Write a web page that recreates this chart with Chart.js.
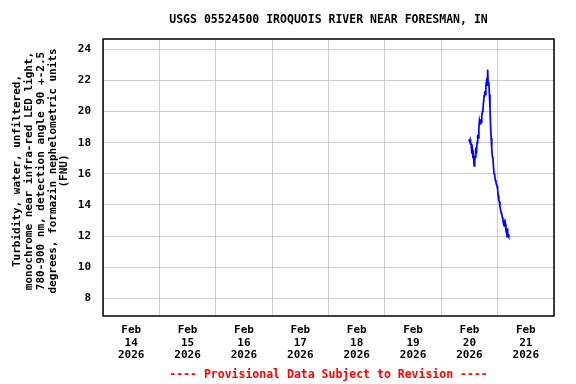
<!DOCTYPE html>
<html>
<head>
<meta charset="utf-8">
<script src="https://cdn.jsdelivr.net/npm/chart.js@4/dist/chart.umd.min.js"></script>
<style>
  html, body { margin: 0; padding: 0; background: #fff; }
  canvas { display: block; }
</style>
</head>
<body>
<canvas id="chart" width="576" height="384"></canvas>
<script>
const stationTitle = "USGS 05524500 IROQUOIS RIVER NEAR FORESMAN, IN";
const yAxisTitle = [
    "Turbidity, water, unfiltered,",
    "monochrome near infra-red LED light,",
    "780-900 nm, detection angle 90 +-2.5",
    "degrees, formazin nephelometric units",
    "(FNU)"
];
const footnote = "---- Provisional Data Subject to Revision ----";

// x axis runs Feb 14 00:00 .. Feb 22 00:00, in days from Feb 14
const gridDays = [0, 1, 2, 3, 4, 5, 6, 7, 8];
const labelDays = [0.5, 1.5, 2.5, 3.5, 4.5, 5.5, 6.5, 7.5];
const dayLabels = [
    ["Feb", "14", "2026"], ["Feb", "15", "2026"], ["Feb", "16", "2026"], ["Feb", "17", "2026"],
    ["Feb", "18", "2026"], ["Feb", "19", "2026"], ["Feb", "20", "2026"], ["Feb", "21", "2026"]
];
const yTicks = [8, 10, 12, 14, 16, 18, 20, 22, 24];

// 15-minute readings (FNU)
const readTimes = [
    "2026-02-20 11:45", "2026-02-20 12:00", "2026-02-20 12:15", "2026-02-20 12:30", "2026-02-20 12:45",
    "2026-02-20 13:00", "2026-02-20 13:15", "2026-02-20 13:30", "2026-02-20 13:45", "2026-02-20 14:00",
    "2026-02-20 14:15", "2026-02-20 14:30", "2026-02-20 14:45", "2026-02-20 15:00", "2026-02-20 15:15",
    "2026-02-20 15:30", "2026-02-20 15:45", "2026-02-20 16:00", "2026-02-20 16:15", "2026-02-20 16:30",
    "2026-02-20 16:45", "2026-02-20 17:00", "2026-02-20 17:15", "2026-02-20 17:30", "2026-02-20 17:45",
    "2026-02-20 18:00", "2026-02-20 18:15", "2026-02-20 18:30", "2026-02-20 18:45", "2026-02-20 19:00",
    "2026-02-20 19:15", "2026-02-20 19:30", "2026-02-20 19:45", "2026-02-20 20:00", "2026-02-20 20:15",
    "2026-02-20 20:30", "2026-02-20 20:45", "2026-02-20 21:00", "2026-02-20 21:15", "2026-02-20 21:30",
    "2026-02-20 21:45", "2026-02-20 22:00", "2026-02-20 22:15", "2026-02-20 22:30", "2026-02-20 22:45",
    "2026-02-20 23:00", "2026-02-20 23:15", "2026-02-20 23:30", "2026-02-20 23:45", "2026-02-21 00:00",
    "2026-02-21 00:15", "2026-02-21 00:30", "2026-02-21 00:45", "2026-02-21 01:00", "2026-02-21 01:15",
    "2026-02-21 01:30", "2026-02-21 01:45", "2026-02-21 02:00", "2026-02-21 02:15", "2026-02-21 02:30",
    "2026-02-21 02:45", "2026-02-21 03:00", "2026-02-21 03:15", "2026-02-21 03:30", "2026-02-21 03:45",
    "2026-02-21 04:00", "2026-02-21 04:15", "2026-02-21 04:30", "2026-02-21 04:45"
];
const turbidity = [
    18.2, 18.1, 18.2, 17.9, 17.9,
    17.3, 17.5, 17.0, 17.2, 16.5,
    16.9, 17.1, 17.7, 17.3, 18.0,
    18.5, 18.3, 18.9, 19.4, 19.2,
    19.5, 19.3, 19.7, 20.0, 20.1,
    20.6, 21.0, 21.3, 21.1, 21.6,
    21.9, 21.7, 22.7, 21.7, 21.9,
    21.1, 20.2, 19.1, 18.3, 17.6,
    17.1, 17.0, 16.4, 16.0, 15.9,
    15.6, 15.5, 15.3, 15.2, 15.0,
    14.6, 14.3, 14.2, 13.9, 13.7,
    13.5, 13.4, 13.2, 13.0, 12.8,
    12.9, 12.6, 12.8, 12.4, 12.2,
    12.5, 11.9, 12.1, 12.0
];

const FONT = "'DejaVu Sans Mono', monospace";

function toDays(s) {
    const day = parseInt(s.slice(8, 10)) - 14;
    const hh = parseInt(s.slice(11, 13));
    const mm = parseInt(s.slice(14, 16));
    return day + hh / 24 + mm / 1440;
}

const points = readTimes.map((t, i) => ({ x: toDays(t), y: turbidity[i] }));

// title, y axis title, footnote and plot frame
const decorations = {
    id: "decorations",
    afterDraw(chart) {
        const { ctx, chartArea: a } = chart;
        const cx = (a.left + a.right) / 2;
        ctx.save();
        ctx.strokeStyle = "#000";
        ctx.lineWidth = 1.5;
        ctx.strokeRect(a.left, a.top, a.right - a.left, a.bottom - a.top);
        ctx.textAlign = "center";
        ctx.textBaseline = "middle";
        ctx.fillStyle = "#000";
        ctx.font = "bold 11.5px " + FONT;
        ctx.fillText(stationTitle, cx, 20);

        // rotated, multi-line axis title
        ctx.font = "bold 11px " + FONT;
        yAxisTitle.forEach((line, i) => {
            ctx.save();
            ctx.translate(17 + i * 11.9, 171);
            ctx.rotate(-Math.PI / 2);
            ctx.fillText(line, 0, 0);
            ctx.restore();
        });

        ctx.font = "bold 11.5px " + FONT;
        ctx.fillStyle = "#ff0000";
        ctx.fillText(footnote, cx, 375);
        ctx.restore();
    }
};

new Chart(document.getElementById("chart"), {
    type: "line",
    data: {
        datasets: [{
            data: points,
            borderColor: "#0000ff",
            borderWidth: 1.7,
            pointRadius: 0,
            tension: 0,
            fill: false
        }]
    },
    options: {
        responsive: false,
        animation: false,
        devicePixelRatio: 1,
        layout: { padding: { top: 39, right: 22, bottom: 0, left: 0 } },
        plugins: {
            legend: { display: false },
            tooltip: { enabled: false }
        },
        scales: {
            x: {
                type: "linear",
                min: 0,
                max: 8,
                afterFit: s => { s.height = 68; },
                afterBuildTicks: s => {
                    s.ticks = gridDays.concat(labelDays).sort((a, b) => a - b).map(v => ({ value: v }));
                },
                border: { display: false },
                grid: {
                    drawTicks: false,
                    color: c => (c.tick && Number.isInteger(c.tick.value)) ? "#cccccc" : "rgba(0,0,0,0)",
                    lineWidth: 1
                },
                ticks: {
                    autoSkip: false,
                    maxRotation: 0,
                    padding: 8,
                    color: "#000",
                    font: { family: FONT, size: 11, weight: "bold", lineHeight: 1.15 },
                    callback: v => {
                        const i = labelDays.indexOf(v);
                        return i >= 0 ? dayLabels[i] : "";
                    }
                }
            },
            y: {
                min: 6.86,
                max: 24.66,
                afterFit: s => { s.width = 103; },
                afterBuildTicks: s => { s.ticks = yTicks.map(v => ({ value: v })); },
                border: { display: false },
                grid: { drawTicks: false, color: "#cccccc", lineWidth: 1 },
                ticks: {
                    padding: 12,
                    color: "#000",
                    font: { family: FONT, size: 11, weight: "bold" }
                }
            }
        }
    },
    plugins: [decorations]
});
</script>
</body>
</html>
